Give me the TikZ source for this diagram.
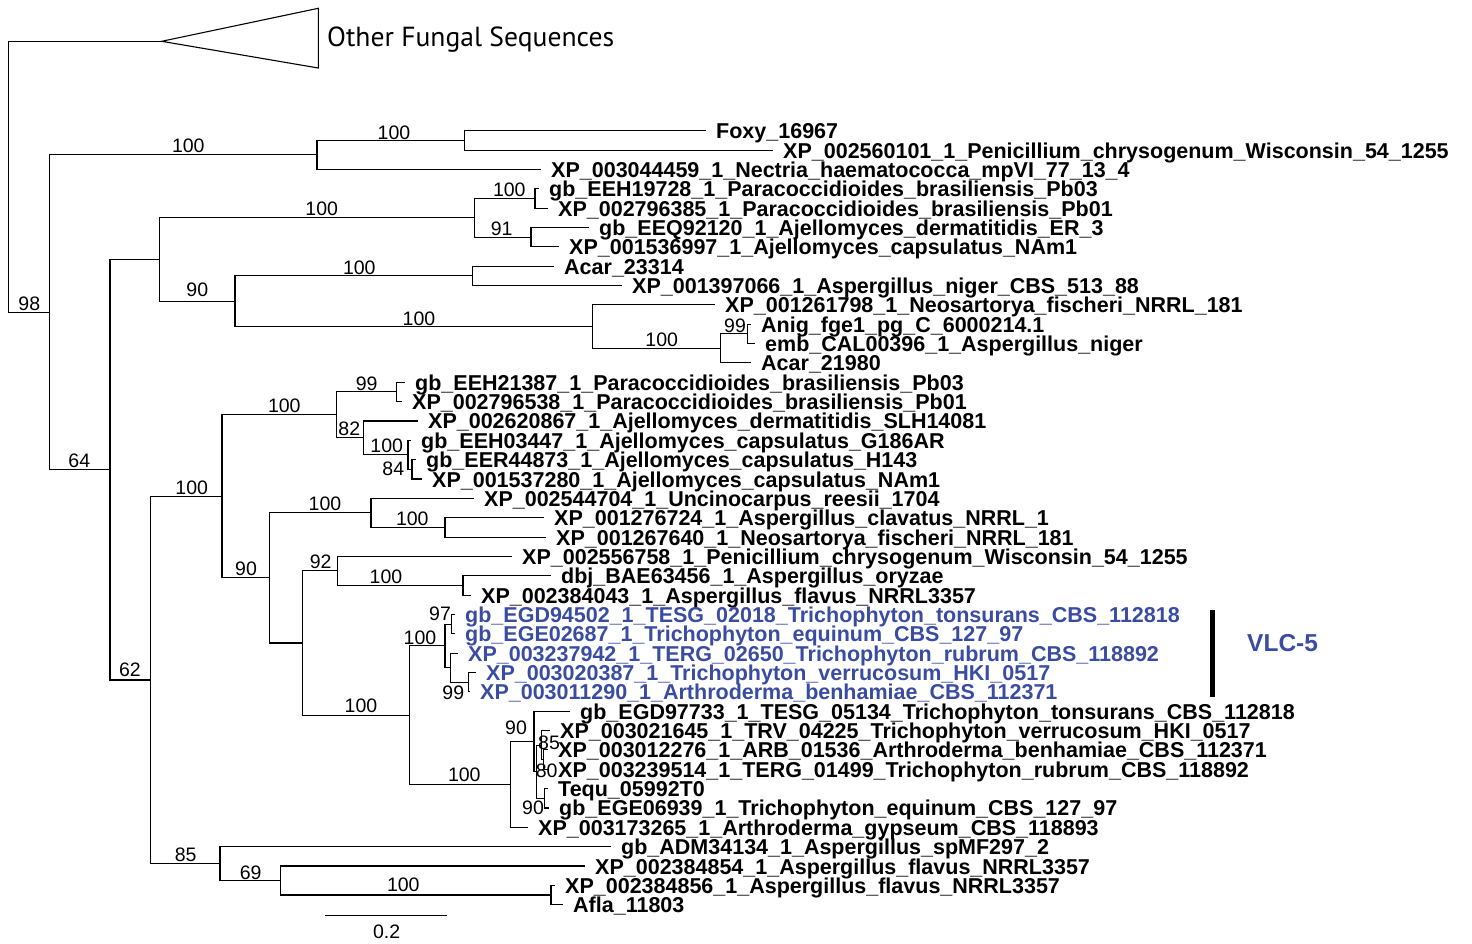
\documentclass[tikz,border=0pt]{standalone}
\usepackage{fontspec}
\setmainfont{Liberation Sans}
\newfontfamily\ofsfont{PT Sans}
\definecolor{vlcblue}{RGB}{58,76,162}
\begin{document}
\begin{tikzpicture}[x=1pt,y=-1pt,
  br/.style={line width=1.1pt, line join=miter},
  leaf/.style={anchor=base west, inner sep=0pt, font=\fontsize{21.5}{21.5}\selectfont\bfseries, xshift=10pt, yshift=-8pt},
  bs/.style={inner sep=0pt, font=\fontsize{19.5}{19.5}\selectfont},
]
\useasboundingbox (0,0) rectangle (1472,943);

% collapsed clade
\coordinate (root) at (8.3,176.8);
\coordinate (apex) at (161.7,41.3);
\coordinate (tri1) at (318.3,8.3);
\coordinate (tri2) at (318.3,68);
\draw[br] (apex) -- (tri1) -- (tri2) -- cycle;
\node[anchor=base west, inner sep=0pt, font=\ofsfont\fontsize{27.6}{27.6}\selectfont] (other) at (327,46) {Other Fungal Sequences};

% internal nodes
\coordinate (n98) at (49.3,312.3);
\coordinate (na) at (317,154.9);
\coordinate (nfox) at (464.3,140.4);
\coordinate (n64) at (110,469.75);
\coordinate (nd) at (159.7,259.5);
\coordinate (nb) at (474.3,217.8);
\coordinate (np1) at (535,198.4);
\coordinate (naj1) at (531,237.1);
\coordinate (nc) at (235,301.2);
\coordinate (nacar) at (472.7,275.8);
\coordinate (nc2) at (592.3,326.6);
\coordinate (nc3) at (720.7,348.4);
\coordinate (nanig) at (747.5,333.9);
\coordinate (n62) at (150.7,680.0);
\coordinate (n222) at (222,496.4);
\coordinate (n100b) at (336.5,414.9);
\coordinate (n99a) at (396.7,391.9);
\coordinate (n82) at (363.3,437.9);
\coordinate (n100c) at (408,454.8);
\coordinate (n84) at (412,469.3);
\coordinate (n269) at (269.3,577.9);
\coordinate (nunc) at (371,512.9);
\coordinate (nasp) at (445,527.4);
\coordinate (n302) at (302.7,643.0);
\coordinate (n92) at (337.7,570.9);
\coordinate (nfl) at (463,585.4);
\coordinate (n409) at (409.3,715.2);
\coordinate (nvlc) at (445,645.9);
\coordinate (n97) at (451.7,624.1);
\coordinate (nv2) at (450.7,667.7);
\coordinate (n99v) at (468.3,682.2);
\coordinate (nder) at (510.7,784.4);
\coordinate (n90a) at (534,741.5);
\coordinate (nB) at (536.5,771.7);
\coordinate (n85) at (541.5,745.1);
\coordinate (n80) at (543.5,759.6);
\coordinate (n90b) at (544.5,798.3);
\coordinate (n85b) at (220,863.6);
\coordinate (n69) at (280.7,880.5);
\coordinate (nfl2) at (551,895.0);

% leaves
\foreach \i/\lx/\ly/\c/\t in {
0/706/130.7/black/Foxy\_16967,
1/773/150.05/black/XP\_002560101\_1\_Penicillium\_chrysogenum\_Wisconsin\_54\_1255,
2/541/169.4/black/XP\_003044459\_1\_Nectria\_haematococca\_mpVI\_77\_13\_4,
3/539/188.75/black/gb\_EEH19728\_1\_Paracoccidioides\_brasiliensis\_Pb03,
4/548/208.1/black/XP\_002796385\_1\_Paracoccidioides\_brasiliensis\_Pb01,
5/589/227.45/black/gb\_EEQ92120\_1\_Ajellomyces\_dermatitidis\_ER\_3,
6/559/246.8/black/XP\_001536997\_1\_Ajellomyces\_capsulatus\_NAm1,
7/554/266.15/black/Acar\_23314,
8/622/285.5/black/XP\_001397066\_1\_Aspergillus\_niger\_CBS\_513\_88,
9/715/304.85/black/XP\_001261798\_1\_Neosartorya\_fischeri\_NRRL\_181,
10/751/324.2/black/Anig\_fge1\_pg\_C\_6000214.1,
11/755/343.55/black/emb\_CAL00396\_1\_Aspergillus\_niger,
12/751/362.9/black/Acar\_21980,
13/405/382.25/black/gb\_EEH21387\_1\_Paracoccidioides\_brasiliensis\_Pb03,
14/402/401.6/black/XP\_002796538\_1\_Paracoccidioides\_brasiliensis\_Pb01,
15/418/420.95/black/XP\_002620867\_1\_Ajellomyces\_dermatitidis\_SLH14081,
16/411/440.3/black/gb\_EEH03447\_1\_Ajellomyces\_capsulatus\_G186AR,
17/416/459.65/black/gb\_EER44873\_1\_Ajellomyces\_capsulatus\_H143,
18/422/479.0/black/XP\_001537280\_1\_Ajellomyces\_capsulatus\_NAm1,
19/474/498.35/black/XP\_002544704\_1\_Uncinocarpus\_reesii\_1704,
20/544/517.7/black/XP\_001276724\_1\_Aspergillus\_clavatus\_NRRL\_1,
21/546/537.05/black/XP\_001267640\_1\_Neosartorya\_fischeri\_NRRL\_181,
22/512/556.4/black/XP\_002556758\_1\_Penicillium\_chrysogenum\_Wisconsin\_54\_1255,
23/551/575.75/black/dbj\_BAE63456\_1\_Aspergillus\_oryzae,
24/471/595.1/black/XP\_002384043\_1\_Aspergillus\_flavus\_NRRL3357,
25/455/614.45/vlcblue/gb\_EGD94502\_1\_TESG\_02018\_Trichophyton\_tonsurans\_CBS\_112818,
26/455/633.8/vlcblue/gb\_EGE02687\_1\_Trichophyton\_equinum\_CBS\_127\_97,
27/458/653.15/vlcblue/XP\_003237942\_1\_TERG\_02650\_Trichophyton\_rubrum\_CBS\_118892,
28/476/672.5/vlcblue/XP\_003020387\_1\_Trichophyton\_verrucosum\_HKI\_0517,
29/470/691.85/vlcblue/XP\_003011290\_1\_Arthroderma\_benhamiae\_CBS\_112371,
30/570/711.2/black/gb\_EGD97733\_1\_TESG\_05134\_Trichophyton\_tonsurans\_CBS\_112818,
31/550/730.55/black/XP\_003021645\_1\_TRV\_04225\_Trichophyton\_verrucosum\_HKI\_0517,
32/548/749.9/black/XP\_003012276\_1\_ARB\_01536\_Arthroderma\_benhamiae\_CBS\_112371,
33/548/769.25/black/XP\_003239514\_1\_TERG\_01499\_Trichophyton\_rubrum\_CBS\_118892,
34/548/788.6/black/Tequ\_05992T0,
35/549/807.95/black/gb\_EGE06939\_1\_Trichophyton\_equinum\_CBS\_127\_97,
36/528/827.3/black/XP\_003173265\_1\_Arthroderma\_gypseum\_CBS\_118893,
37/611/846.65/black/gb\_ADM34134\_1\_Aspergillus\_spMF297\_2,
38/585/866.0/black/XP\_002384854\_1\_Aspergillus\_flavus\_NRRL3357,
39/555/885.35/black/XP\_002384856\_1\_Aspergillus\_flavus\_NRRL3357,
40/563/904.7/black/Afla\_11803}
{
  \coordinate (L\i) at (\lx,\ly);
  \node[leaf, text=\c] (T\i) at (L\i) {\t};
}

% branches
\foreach \p/\q in {root/apex, root/n98,
  n98/na, n98/n64, na/nfox, na/L2, nfox/L0, nfox/L1,
  n64/nd, n64/n62, nd/nb, nd/nc, nb/np1, nb/naj1, np1/L3, np1/L4, naj1/L5, naj1/L6,
  nc/nacar, nc/nc2, nacar/L7, nacar/L8, nc2/L9, nc2/nc3, nc3/nanig, nc3/L12, nanig/L10, nanig/L11,
  n62/n222, n62/n85b, n222/n100b, n222/n269, n100b/n99a, n100b/n82, n99a/L13, n99a/L14,
  n82/L15, n82/n100c, n100c/L16, n100c/n84, n84/L17, n84/L18,
  n269/nunc, n269/n302, nunc/L19, nunc/nasp, nasp/L20, nasp/L21,
  n302/n92, n302/n409, n92/L22, n92/nfl, nfl/L23, nfl/L24,
  n409/nvlc, n409/nder, nvlc/n97, nvlc/nv2, n97/L25, n97/L26, nv2/L27, nv2/n99v, n99v/L28, n99v/L29,
  nder/n90a, nder/L36, n90a/L30, n90a/nB, nB/n85, nB/n90b, n85/L31, n85/n80, n80/L32, n80/L33,
  n90b/L34, n90b/L35,
  n85b/L37, n85b/n69, n69/L38, n69/nfl2, nfl2/L39, nfl2/L40}
{
  \draw[br] (\p) |- (\q);
}

% bootstrap values
\foreach \lx/\ly/\t [count=\i] in {
29.3/304/98, 188.3/145.7/100, 394/132.3/100, 509.3/190/100, 321.7/209/100,
501.7/228.3/91, 359.3/267.3/100, 197.3/290/90, 419/318.3/100, 735/326/99,
661.7/340/100, 366.7/383.3/99, 284.3/406/100, 349.3/429/82, 386.7/446/100,
393.3/468.3/84, 79.3/460.7/64, 191.7/487.7/100, 325/504/100, 412.3/519/100,
246/569/90, 320.7/561.7/92, 386/576.7/100, 440/614/97, 420/637.7/100,
130/670/62, 453.3/693/99, 361/706/100, 516/727.5/90, 549/742.5/85,
546.7/770.5/80, 464.3/774.3/100, 533/808/90, 185.7/854.3/85, 250.7/872.3/69,
403.3/884.3/100}
{
  \node[bs] (bs\i) at (\lx,\ly) {\t};
}

% VLC-5 bracket
\coordinate (vtop) at (1212,610);
\coordinate (vbot) at (1212,697);
\draw[line width=5pt] (vtop) -- (vbot);
\node[anchor=base west, inner sep=0pt, text=vlcblue, font=\fontsize{24.5}{24.5}\selectfont\bfseries] (vlc) at (1247,651) {VLC-5};

% scale bar
\coordinate (sb1) at (325.3,915.7);
\coordinate (sb2) at (446.7,915.7);
\draw[br] (sb1) -- (sb2);
\node[bs] (sbl) at (386.7,931.7) {0.2};
\end{tikzpicture}
\end{document}
